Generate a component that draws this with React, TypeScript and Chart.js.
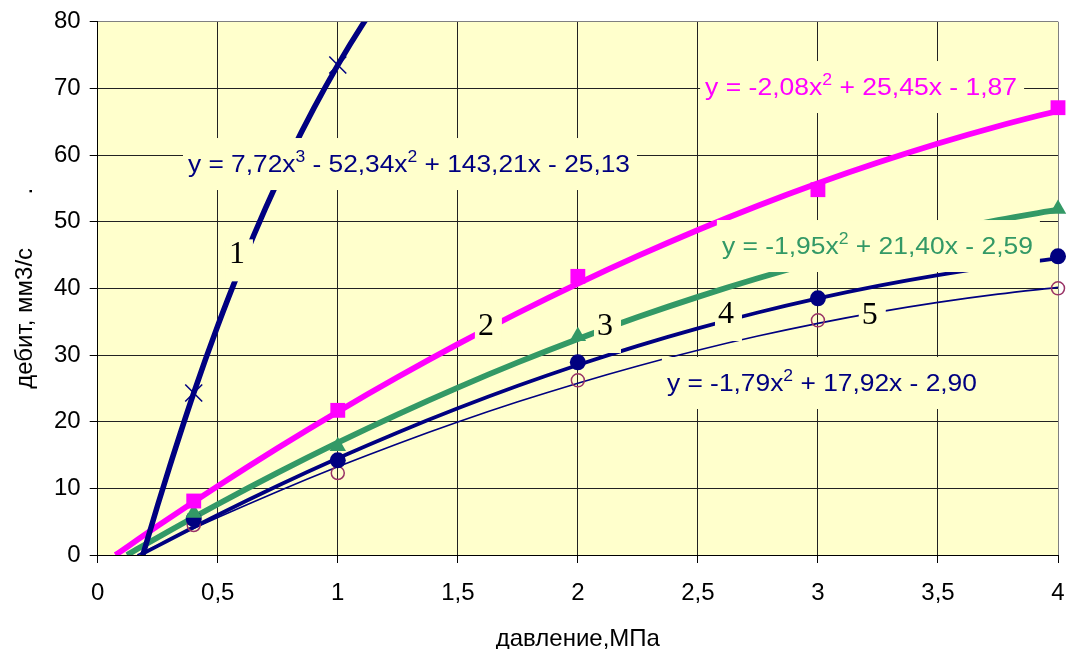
import React, { useEffect, useRef } from "react";
import { Chart, registerables } from "chart.js";

Chart.register(...registerables);

// ---- data ----
// x positions (МПа) where the trend curves were read
const stepX = [0.25, 0.5, 0.75, 1, 1.25, 1.5, 1.75, 2, 2.25, 2.5, 2.75, 3, 3.25, 3.5, 3.75, 4];

// curve 1 (cubic trend, runs off the top of the plot)
const curve1X = [0.188, 0.25, 0.3, 0.4, 0.5, 0.6, 0.7, 0.8, 0.9, 1.0, 1.1, 1.2];
const curve1Y = [0, 7.5, 13.3, 24.3, 34.4, 43.6, 52.1, 59.9, 67.0, 73.5, 79.4, 84.7];

// curve 2 (magenta)
const curve2Start = 0.074;
const curve2Y = [0, 4.36, 10.34, 16.05, 21.5, 26.69, 31.63, 36.3, 40.71, 44.86, 48.76, 52.39, 55.76, 58.87, 61.73, 64.32, 66.65];

// curve 3 (green)
const curve3Start = 0.122;
const curve3Y = [0, 2.64, 7.62, 12.36, 16.86, 21.11, 25.12, 28.89, 32.41, 35.69, 38.72, 41.51, 44.06, 46.36, 48.42, 50.24, 51.81];

// curve 4 (navy, thick)
const curve4Start = 0.178;
const curve4Y = [0, 1.37, 6.0, 10.38, 14.5, 18.38, 22.0, 25.38, 28.5, 31.38, 34.0, 36.38, 38.5, 40.38, 42.0, 43.38, 44.5];

// curve 5 (navy, thin)
const curve5Start = 0.165;
const curve5Y = [0, 1.47, 5.61, 9.53, 13.23, 16.7, 19.95, 22.98, 25.78, 28.36, 30.71, 32.84, 34.75, 36.43, 37.89, 39.13, 40.14];

// measured points
const markerX = [0.4, 1, 2, 3, 4];
const series1Marks = [24.3, 73.5];
const series2Marks = [8.1, 21.7, 41.8, 54.8, 67.1];
const series3Marks = [6.3, 16.3, 32.8, 43.5, 51.9];
const series4Marks = [5.4, 14.2, 28.9, 38.5, 44.8];
const series5Marks = [4.5, 12.3, 26.2, 35.2, 40.0];

// axis ticks
const xMin = 0, xMax = 4, xStep = 0.5;
const yMin = 0, yMax = 80, yStep = 10;

// texts
const xTitle = "давление,МПа";
const yTitle = "дебит, мм3/с        .";
const equationTexts = [
  "y = 7,72x³ - 52,34x² + 143,21x - 25,13",
  "y = -2,08x² + 25,45x - 1,87",
  "y = -1,95x² + 21,40x - 2,59",
  "y = -1,79x² + 17,92x - 2,90",
];
const curveNames = ["1", "2", "3", "4", "5"];

// ---- styles ----
const NAVY = "#000080";
const MAGENTA = "#FF00FF";
const GREEN = "#339966";
const MAROON = "#993366";
const PLOT_BG = "#FFFFCC";
const SANS = '"Liberation Sans", Arial, sans-serif';
const SERIF = '"Liberation Serif", "Times New Roman", serif';

// annotation placement (data coordinates of text anchor) and target widths
const equationStyle = [
  { color: NAVY, x: 0.376, y: 58.8, width: 442 },
  { color: MAGENTA, x: 2.53, y: 70.35, width: 312 },
  { color: GREEN, x: 2.6, y: 46.5, width: 311 },
  { color: NAVY, x: 2.371, y: 25.95, width: 310 },
];
const curveNamePos = [
  { x: 0.58, y: 45.4 },
  { x: 1.617, y: 34.65 },
  { x: 2.113, y: 34.65 },
  { x: 2.617, y: 36.45 },
  { x: 3.216, y: 36.3 },
];

const SUPERS: Record<string, string> = { "²": "2", "³": "3" };

const pts = (xs: number[], ys: number[]) => ys.map((v, i) => ({ x: xs[i], y: v }));

// split a string into normal / superscript runs
const splitRuns = (t: string) => {
  const runs: { s: string; sup: boolean }[] = [];
  for (const ch of t) {
    const sup = ch in SUPERS;
    const c = sup ? SUPERS[ch] : ch;
    const last = runs[runs.length - 1];
    if (last && last.sup === sup) last.s += c;
    else runs.push({ s: c, sup });
  }
  return runs;
};

const bgPlugin = {
  id: "bg",
  beforeDraw(chart: any) {
    const { ctx, chartArea, width, height } = chart;
    ctx.save();
    ctx.fillStyle = "#ffffff";
    ctx.fillRect(0, 0, width, height);
    ctx.fillStyle = PLOT_BG;
    ctx.fillRect(chartArea.left, chartArea.top, chartArea.right - chartArea.left, chartArea.bottom - chartArea.top);
    ctx.restore();
  },
};

const labelPlugin = {
  id: "labels",
  afterDatasetsDraw(chart: any) {
    const { ctx } = chart;
    const xs = chart.scales.x;
    const ys = chart.scales.y;
    const mainFont = `24px ${SANS}`;
    const supFont = `16px ${SANS}`;
    ctx.save();
    ctx.textAlign = "left";
    ctx.textBaseline = "alphabetic";
    // equations
    equationTexts.forEach((t, i) => {
      const s = equationStyle[i];
      const px = xs.getPixelForValue(s.x);
      const py = ys.getPixelForValue(s.y);
      ctx.fillStyle = PLOT_BG;
      ctx.fillRect(px - 5, py - 25, s.width + 12, 52);
      const runs = splitRuns(t);
      let total = 0;
      const widths = runs.map((r) => {
        ctx.font = r.sup ? supFont : mainFont;
        const w = ctx.measureText(r.s).width;
        total += w;
        return w;
      });
      ctx.save();
      ctx.translate(px, py + 8.6);
      ctx.scale(s.width / total, 1);
      ctx.fillStyle = s.color;
      let cx = 0;
      runs.forEach((r, k) => {
        ctx.font = r.sup ? supFont : mainFont;
        ctx.fillText(r.s, cx, r.sup ? -10 : 0);
        cx += widths[k];
      });
      ctx.restore();
    });
    // curve numbers
    ctx.font = `32px ${SERIF}`;
    ctx.textAlign = "center";
    ctx.textBaseline = "alphabetic";
    curveNames.forEach((t, i) => {
      const p = curveNamePos[i];
      const px = xs.getPixelForValue(p.x);
      const py = ys.getPixelForValue(p.y);
      ctx.fillStyle = PLOT_BG;
      ctx.fillRect(px - 11, py - 13, 27, 42);
      ctx.fillStyle = "#000000";
      ctx.fillText(t, px, py + 10.8);
    });
    ctx.restore();
  },
};

export default function App() {
  const ref = useRef<HTMLCanvasElement>(null);

  useEffect(() => {
    const canvas = ref.current;
    if (!canvas) return;
    const lineClip = { left: false, top: 0, right: false, bottom: 0 };
    const curve = (xs: number[], ys: number[], color: string, w: number) => ({
      data: pts(xs, ys),
      borderColor: color,
      backgroundColor: color,
      borderWidth: w,
      pointRadius: 0,
      cubicInterpolationMode: "monotone",
      fill: false,
      clip: lineClip,
    });
    const marks = (ys: number[], style: string, r: number, bg: string, border: string, bw: number) => ({
      data: pts(markerX, ys),
      showLine: false,
      pointStyle: style,
      pointRadius: r,
      pointBackgroundColor: bg,
      pointBorderColor: border,
      pointBorderWidth: bw,
      borderColor: border,
      backgroundColor: bg,
      clip: false,
    });

    const chart = new Chart(canvas, {
      type: "line",
      data: {
        datasets: [
          marks(series2Marks, "rect", 10.5, MAGENTA, MAGENTA, 0),
          marks(series3Marks, "triangle", 9.5, GREEN, GREEN, 0),
          marks(series1Marks, "crossRot", 12, NAVY, NAVY, 1.5),
          marks(series4Marks, "circle", 8, NAVY, NAVY, 0),
          marks(series5Marks, "circle", 6.5, "rgba(0,0,0,0)", MAROON, 1.5),
          curve(curve1X, curve1Y, NAVY, 5.5),
          curve([curve2Start, ...stepX], curve2Y, MAGENTA, 5.8),
          curve([curve3Start, ...stepX], curve3Y, GREEN, 5.8),
          curve([curve4Start, ...stepX], curve4Y, NAVY, 3.8),
          curve([curve5Start, ...stepX], curve5Y, NAVY, 1.6),
        ] as any,
      },
      options: {
        responsive: false,
        animation: false,
        devicePixelRatio: 1,
        layout: { autoPadding: false, padding: { left: 0, top: 21.7, right: 9, bottom: 0 } },
        plugins: { legend: { display: false }, tooltip: { enabled: false } },
        scales: {
          x: {
            type: "linear",
            min: xMin,
            max: xMax,
            ticks: {
              stepSize: xStep,
              color: "#000",
              font: { family: SANS, size: 24 },
              padding: 16,
              maxRotation: 0,
              autoSkip: false,
              callback: (v: any) => String(v).replace(".", ","),
            },
            grid: {
              color: (c: any) => (c.tick && c.tick.value === xMax ? "#808080" : "#222"),
              lineWidth: 1,
              tickColor: "#000",
              tickLength: 8,
            },
            border: { display: true, color: "#000", width: 1 },
            title: {
              display: true,
              text: xTitle,
              color: "#000",
              font: { family: SANS, size: 24, lineHeight: 0.83 },
              padding: 0,
            },
            afterFit: (s: any) => {
              s.height = 94;
              s.paddingLeft = 0;
              s.paddingRight = 0;
            },
          },
          y: {
            type: "linear",
            min: yMin,
            max: yMax,
            ticks: {
              stepSize: yStep,
              color: "#000",
              font: { family: SANS, size: 24 },
              padding: 9,
            },
            grid: {
              color: (c: any) => (c.tick && c.tick.value === yMax ? "#808080" : "#222"),
              lineWidth: 1,
              tickColor: "#000",
              tickLength: 8,
            },
            border: { display: true, color: "#000", width: 1 },
            title: {
              display: true,
              text: yTitle,
              color: "#000",
              font: { family: SANS, size: 24, lineHeight: 1.2 },
              padding: { top: 10.6, bottom: 0 },
            },
            afterFit: (s: any) => {
              s.width = 97.7;
              s.paddingTop = 0;
              s.paddingBottom = 0;
            },
          },
        },
      } as any,
      plugins: [bgPlugin, labelPlugin],
    });
    return () => chart.destroy();
  }, []);

  return (
    <div style={{ position: "fixed", left: 0, top: 0, width: 1067, height: 649, background: "#fff" }}>
      <canvas ref={ref} width={1067} height={649} style={{ display: "block" }} />
    </div>
  );
}
